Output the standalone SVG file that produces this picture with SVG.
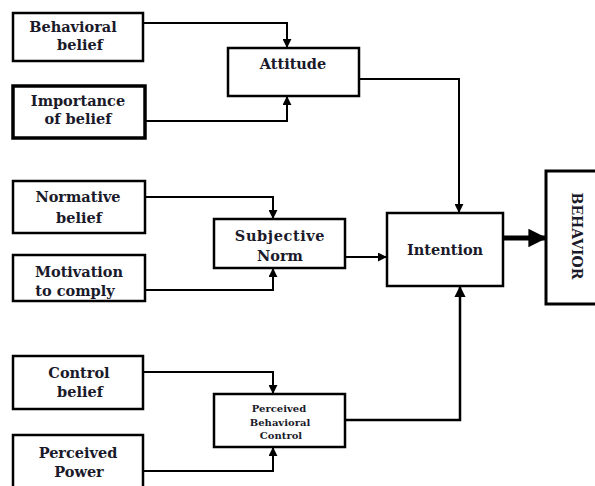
<svg xmlns="http://www.w3.org/2000/svg" width="595" height="486" viewBox="0 0 595 486">
<style>
.box{fill:#fff;stroke:#000;stroke-width:2.5}
.t{font-family:"DejaVu Serif","Liberation Serif",serif;font-weight:bold;font-size:14.5px;fill:#1a1a2a;text-anchor:middle}
.s{font-size:10px}
.c{fill:none;stroke:#000;stroke-width:2}
</style>
<defs>
<marker id="a" viewBox="0 0 10 10" refX="9" refY="5" markerWidth="4.5" markerHeight="4.5" orient="auto" markerUnits="strokeWidth">
<path d="M0,0 L10,5 L0,10 z" fill="#000"/>
</marker>
<marker id="big" viewBox="0 0 10 10" refX="9" refY="5" markerWidth="4.4" markerHeight="3.7" orient="auto" markerUnits="strokeWidth">
<path d="M0,0 L10,5 L0,10 z" fill="#000"/>
</marker>
</defs>
<rect width="595" height="486" fill="#fff"/>
<g id="connectors">
<path class="c" d="M143,23 H287 V47" marker-end="url(#a)"/>
<path class="c" d="M145,121 H287 V97" marker-end="url(#a)"/>
<path class="c" d="M359,79 H459 V212" marker-end="url(#a)"/>
<path class="c" d="M145,197 H273 V218" marker-end="url(#a)"/>
<path class="c" d="M145,290 H273 V269" marker-end="url(#a)"/>
<path class="c" d="M345,257 H386" marker-end="url(#a)"/>
<path class="c" d="M143,372 H273 V393" marker-end="url(#a)"/>
<path class="c" d="M143,471 H273 V448" marker-end="url(#a)"/>
<path class="c" d="M345,420 H460 V287" style="stroke-width:2.5" marker-end="url(#a)"/>
<path class="c" d="M504,238 H545" style="stroke-width:5" marker-end="url(#big)"/>
</g>
<g id="behavioral-belief">
<rect class="box" x="13" y="13" width="130" height="48"/>
<text class="t" x="73" y="32">Behavioral</text>
<text class="t" x="80" y="50">belief</text>
</g>
<g id="importance-of-belief">
<rect class="box" x="13" y="86" width="132" height="52" style="stroke-width:3.5"/>
<text class="t" x="78" y="106">Importance</text>
<text class="t" x="78" y="124">of belief</text>
</g>
<g id="attitude">
<rect class="box" x="228" y="48" width="131" height="48"/>
<text class="t" x="293" y="69">Attitude</text>
</g>
<g id="normative-belief">
<rect class="box" x="13" y="181" width="132" height="52"/>
<text class="t" x="78" y="202">Normative</text>
<text class="t" x="79" y="223">belief</text>
</g>
<g id="motivation-to-comply">
<rect class="box" x="13" y="255" width="132" height="46"/>
<text class="t" x="79" y="277">Motivation</text>
<text class="t" x="75" y="296">to comply</text>
</g>
<g id="subjective-norm">
<rect class="box" x="214" y="219" width="131" height="49"/>
<text class="t" x="280" y="241" letter-spacing="0.6">Subjective</text>
<text class="t" x="280" y="261">Norm</text>
</g>
<g id="intention">
<rect class="box" x="387" y="213" width="116" height="73"/>
<text class="t" x="445" y="255">Intention</text>
</g>
<g id="behavior">
<rect class="box" x="546" y="171" width="60" height="133" style="stroke-width:3"/>
<text class="t" transform="translate(572,236) rotate(90)" style="font-size:14px">BEHAVIOR</text>
</g>
<g id="control-belief">
<rect class="box" x="13" y="356" width="130" height="53"/>
<text class="t" x="79" y="378">Control</text>
<text class="t" x="80" y="397">belief</text>
</g>
<g id="perceived-behavioral-control">
<rect class="box" x="214" y="394" width="131" height="53"/>
<text class="t s" x="279" y="412">Perceived</text>
<text class="t s" x="280" y="426">Behavioral</text>
<text class="t s" x="281" y="439">Control</text>
</g>
<g id="perceived-power">
<rect class="box" x="13" y="435" width="130" height="60"/>
<text class="t" x="78" y="458">Perceived</text>
<text class="t" x="79" y="477">Power</text>
</g>
</svg>
